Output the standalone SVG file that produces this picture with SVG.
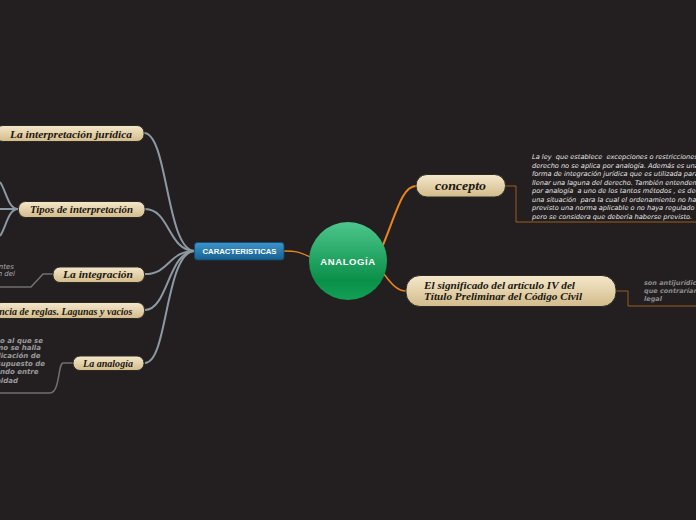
<svg xmlns="http://www.w3.org/2000/svg" width="696" height="520" viewBox="0 0 696 520">
<defs>
<linearGradient id="beige" x1="0" y1="0" x2="0" y2="1">
<stop offset="0" stop-color="#f4e8cb"/>
<stop offset="1" stop-color="#d3bb8a"/>
</linearGradient>
<linearGradient id="blue" x1="0" y1="0" x2="0" y2="1">
<stop offset="0" stop-color="#3d95cc"/>
<stop offset="1" stop-color="#16608f"/>
</linearGradient>
<linearGradient id="green" x1="0" y1="0" x2="0" y2="1">
<stop offset="0" stop-color="#4dc68c"/>
<stop offset="0.75" stop-color="#0a9049"/>
<stop offset="1" stop-color="#12a055"/>
</linearGradient>
<style>
.pill{fill:url(#beige);stroke:#2b2a22;stroke-width:1}
.lbl{font-family:"Liberation Serif",serif;font-weight:bold;font-style:italic;fill:#1b1711}
.gc{fill:none;stroke:#8b99a4;stroke-width:2}
.oc{fill:none;stroke:#e8861c;stroke-width:2}
.bc{fill:none;stroke:#9a5f1c;stroke-width:1}
.sc{fill:none;stroke:#707070;stroke-width:1.5}
.note{font-family:"DejaVu Sans",sans-serif;font-style:italic;font-size:6.6px;fill:#e6e6e6;white-space:pre}
.gnote{font-family:"DejaVu Sans",sans-serif;font-style:italic;font-weight:bold;font-size:7px;fill:#9a9a9a}
</style>
</defs>
<rect width="696" height="520" fill="#231f20"/>
<g id="connectors">
<path class="gc" d="M144,133 C168,133 166,251 195,251"/>
<path class="gc" d="M145,209 C170,209 168,251 195,251"/>
<path class="gc" d="M145,274 C170,274 168,251 195,251"/>
<path class="gc" d="M145,310 C168,310 168,251 195,251"/>
<path class="gc" d="M145,363 C168,363 165,251 195,251"/>
<path class="gc" d="M18,209 L0,209"/>
<path class="gc" d="M18,209 C8,209 6,190 0,182"/>
<path class="gc" d="M18,209 C8,209 6,228 0,236"/>
<path class="sc" d="M53,274 L43,274 L31,287 L0,287"/>
<path class="sc" d="M73,363 L63,363 C58,363 60,393 50,393 L0,393"/>
<path class="oc" style="stroke-width:1.3" d="M284,251 C296,251 300,252 310,257"/>
<path class="oc" d="M383,245 C396,214 402,186 416,186"/>
<path class="oc" style="stroke-width:1.5" d="M384,274 C392,285 398,291 406,291"/>
<path class="bc" d="M505,186 L516,186 L516,222 L696,222"/>
<path class="bc" d="M616,291 L628,291 L628,306 L696,306"/>
</g>
<g id="analogia">
<circle cx="348" cy="261" r="39" fill="url(#green)"/>
<text x="348" y="265" text-anchor="middle" font-family="Liberation Sans,sans-serif" font-weight="bold" font-size="9.5" letter-spacing="0.6" fill="#ffffff">ANALOGÍA</text>
</g>
<g id="caracteristicas">
<rect x="194.5" y="242.5" width="89.5" height="17.5" rx="3" fill="url(#blue)" stroke="#0f4a70" stroke-width="0.8"/>
<text x="239.5" y="254" text-anchor="middle" font-family="Liberation Sans,sans-serif" font-weight="bold" font-size="7" fill="#ffffff" textLength="74" lengthAdjust="spacingAndGlyphs">CARACTERISTICAS</text>
</g>
<g id="concepto">
<rect x="416" y="174.5" width="89.5" height="22.5" rx="11" class="pill" stroke="#3a3020"/>
<text x="460.5" y="190" text-anchor="middle" class="lbl" font-size="13.5" textLength="51" lengthAdjust="spacingAndGlyphs">concepto</text>
</g>
<g id="concepto-text" xml:space="preserve">
<text class="note" x="532" y="159">La ley  que establece  excepciones o restricciones</text>
<text class="note" x="532" y="167.5">derecho no se aplica por analogía. Además es una</text>
<text class="note" x="532" y="176">forma de integración jurídica que es utilizada para</text>
<text class="note" x="532" y="184.5">llenar una laguna del derecho. También entendemos</text>
<text class="note" x="532" y="193">por analogía  a uno de los tantos métodos , es decir</text>
<text class="note" x="532" y="201.5">una situación  para la cual el ordenamiento no ha</text>
<text class="note" x="532" y="210">previsto una norma aplicable o no haya regulado</text>
<text class="note" x="532" y="218.5">pero se considera que debería haberse previsto.</text>
</g>
<g id="significado">
<rect x="406" y="275.5" width="210" height="31" rx="14" class="pill" stroke="#3a3020"/>
<text x="424" y="289" class="lbl" font-size="11" textLength="151" lengthAdjust="spacingAndGlyphs">El significado del artículo IV del</text>
<text x="424" y="300" class="lbl" font-size="11" textLength="158" lengthAdjust="spacingAndGlyphs">Título Preliminar del Código Civil</text>
</g>
<g id="significado-text">
<text class="gnote" x="644" y="284.5" style="font-size:6.5px;fill:#8c8c8c">son antijurídicas</text>
<text class="gnote" x="644" y="292.5" style="font-size:6.5px;fill:#8c8c8c">que contrarían</text>
<text class="gnote" x="644" y="300.5" style="font-size:6.5px;fill:#8c8c8c">legal</text>
</g>
<g id="interpretacion-juridica">
<rect x="-4" y="125.5" width="148" height="16" rx="7" class="pill" stroke="#111"/>
<text x="10" y="137.5" class="lbl" font-size="11" textLength="122" lengthAdjust="spacingAndGlyphs">La interpretación jurídica</text>
</g>
<g id="tipos">
<rect x="18.5" y="201.5" width="126.5" height="16" rx="7" class="pill"/>
<text x="30" y="213" class="lbl" font-size="9.5" textLength="103" lengthAdjust="spacingAndGlyphs">Tipos de interpretación</text>
</g>
<g id="integracion">
<rect x="53" y="267" width="91.5" height="15.5" rx="7" class="pill" stroke="#2c3a22"/>
<text x="63" y="278" class="lbl" font-size="11" textLength="70" lengthAdjust="spacingAndGlyphs">La integración</text>
</g>
<g id="lagunas">
<rect x="-6" y="302.5" width="150.5" height="16" rx="7" class="pill"/>
<text x="132.5" y="314.5" text-anchor="end" class="lbl" font-size="10">ncia de reglas. Lagunas y vacios</text>
</g>
<g id="la-analogia">
<rect x="73" y="356" width="71" height="14.5" rx="7" class="pill" stroke="#2c3a22"/>
<text x="83" y="366.5" class="lbl" font-size="9.5" textLength="50" lengthAdjust="spacingAndGlyphs">La analogía</text>
</g>
<g id="left-notes">
<text class="note" x="14" y="268.5" text-anchor="end" style="fill:#aaaaaa;font-size:7px">ntes</text>
<text class="note" x="15" y="276" text-anchor="end" style="fill:#aaaaaa;font-size:7px">n del</text>
<text class="gnote" x="43" y="342.5" text-anchor="end">o al que se</text>
<text class="gnote" x="41" y="350" text-anchor="end">o no se halla</text>
<text class="gnote" x="40.5" y="358" text-anchor="end">aplicación de</text>
<text class="gnote" x="45" y="366" text-anchor="end">m supuesto de</text>
<text class="gnote" x="38.5" y="374" text-anchor="end">uando entre</text>
<text class="gnote" x="18" y="382.5" text-anchor="end">aldad</text>
</g>
</svg>
